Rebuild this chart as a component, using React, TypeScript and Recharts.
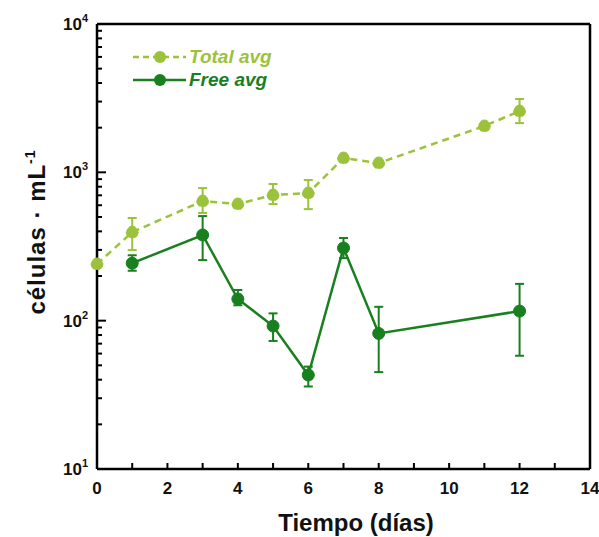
import React from "react";
import { LineChart, Line, XAxis, YAxis, ErrorBar, ReferenceLine } from "recharts";

const LIGHT = "#9bc23b";
const DARK = "#18801f";
const FONT = "'Liberation Sans', Arial, sans-serif";

// Total avg (light, dashed)
const totalDays = [0, 1, 3, 4, 5, 6, 7, 8, 11, 12];
const totalAvg = [241, 395, 640, 611, 703, 725, 1248, 1155, 2052, 2587];
const totalErrLow = [0, 96, 108, 20, 92, 160, 0, 0, 0, 440];
const totalErrHigh = [0, 97, 143, 20, 131, 162, 0, 0, 0, 533];

// Free avg (dark, solid)
const freeDays = [1, 3, 4, 5, 6, 7, 8, 12];
const freeAvg = [244, 378, 140, 92, 43, 309, 82, 116];
const freeErrLow = [27, 122, 13, 19, 7, 45, 37, 58];
const freeErrHigh = [32, 129, 21, 20, 6, 52, 42, 61];

const xTicks = [0, 1, 2, 3, 4, 5, 6, 7, 8, 9, 10, 11, 12, 13, 14];
const yTicks = [1, 10, 100, 1000].flatMap((d) =>
  [1, 2, 3, 4, 5, 6, 7, 8, 9].map((m) => m * d * 10)
).filter((v) => v <= 10000);

const totalData = totalDays.map((day, i) => ({
  day,
  value: totalAvg[i],
  err: [totalErrLow[i], totalErrHigh[i]],
}));
const freeData = freeDays.map((day, i) => ({
  day,
  value: freeAvg[i],
  err: [freeErrLow[i], freeErrHigh[i]],
}));

function XTick({ x, y, payload }: any) {
  const v = payload.value;
  return (
    <g>
      <line x1={x} x2={x} y1={y} y2={y - 6} stroke="#000" strokeWidth={2} />
      {v % 2 === 0 && (
        <text x={x} y={y + 25} textAnchor="middle" fontFamily={FONT} fontWeight="bold" fontSize={17} fill="#111">
          {v}
        </text>
      )}
    </g>
  );
}

function YTick({ x, y, payload }: any) {
  const v = payload.value;
  const lg = Math.log10(v);
  const exp = Math.round(lg);
  const major = Math.abs(lg - exp) < 1e-6;
  return (
    <g>
      <line x1={x} x2={x + (major ? 9 : 5)} y1={y} y2={y} stroke="#000" strokeWidth={2} />
      {major && (
        <text x={x - 9} y={y + 6} textAnchor="end" fontFamily={FONT} fontWeight="bold" fontSize={17} fill="#111">
          10
          <tspan dy={-8} fontSize={11}>{exp}</tspan>
        </text>
      )}
    </g>
  );
}

export default function App() {
  return (
    <div style={{ position: "absolute", left: 0, top: 0, background: "#fff" }}>
      <LineChart width={599} height={537} margin={{ top: 24, right: 9, left: 0, bottom: 0 }}>
        <XAxis
          type="number"
          dataKey="day"
          domain={[0, 14]}
          ticks={xTicks}
          interval={0}
          height={68}
          tickSize={0}
          tickMargin={0}
          tickLine={false}
          axisLine={{ stroke: "#000", strokeWidth: 2.5 }}
          tick={<XTick />}
          allowDuplicatedCategory={false}
        />
        <YAxis
          scale="log"
          domain={[10, 10000]}
          ticks={yTicks}
          interval={0}
          width={97}
          tickSize={0}
          tickMargin={0}
          tickLine={false}
          axisLine={{ stroke: "#000", strokeWidth: 2.5 }}
          tick={<YTick />}
          allowDataOverflow
        />
        <ReferenceLine y={10000} stroke="#000" strokeWidth={2.5} />
        <ReferenceLine x={14} stroke="#000" strokeWidth={2.5} />
        <Line
          data={totalData}
          dataKey="value"
          stroke={LIGHT}
          strokeWidth={2.5}
          strokeDasharray="7 5"
          dot={{ r: 6, fill: LIGHT, stroke: LIGHT, strokeWidth: 1 }}
          isAnimationActive={false}
        >
          <ErrorBar dataKey="err" width={4.5} stroke={LIGHT} strokeWidth={2} direction="y" />
        </Line>
        <Line
          data={freeData}
          dataKey="value"
          stroke={DARK}
          strokeWidth={2.5}
          dot={{ r: 6, fill: DARK, stroke: DARK, strokeWidth: 1 }}
          isAnimationActive={false}
        >
          <ErrorBar dataKey="err" width={4.5} stroke={DARK} strokeWidth={2} direction="y" />
        </Line>

        {/* legend */}
        <line x1={133} x2={186} y1={57} y2={57} stroke={LIGHT} strokeWidth={2.5} strokeDasharray="6 4" />
        <circle cx={160} cy={57} r={6} fill={LIGHT} />
        <text x={189} y={63} fontFamily={FONT} fontWeight="bold" fontStyle="italic" fontSize={19} fill={LIGHT}>
          Total avg
        </text>
        <line x1={133} x2={186} y1={80} y2={80} stroke={DARK} strokeWidth={2.5} />
        <circle cx={160} cy={80} r={6} fill={DARK} />
        <text x={189} y={86} fontFamily={FONT} fontWeight="bold" fontStyle="italic" fontSize={19} fill={DARK}>
          Free avg
        </text>

        {/* axis titles */}
        <text x={356} y={531} textAnchor="middle" fontFamily={FONT} fontWeight="bold" fontSize={24} fill="#111">
          Tiempo (días)
        </text>
        <text
          x={0}
          y={0}
          transform="translate(45,232) rotate(-90)"
          textAnchor="middle"
          fontFamily={FONT}
          fontWeight="bold"
          fontSize={24}
          letterSpacing={1}
          fill="#111"
        >
          células · mL
          <tspan dy={-10} fontSize={14}>-1</tspan>
        </text>
      </LineChart>
    </div>
  );
}
